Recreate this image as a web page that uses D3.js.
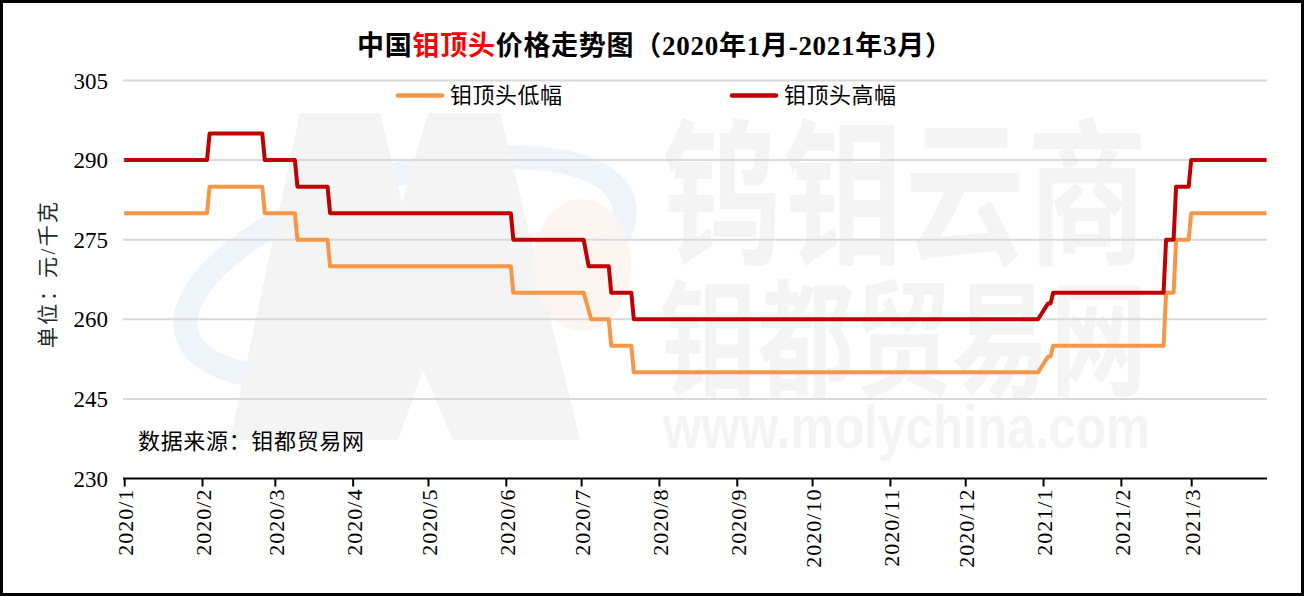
<!DOCTYPE html>
<html><head><meta charset="utf-8">
<script src="https://cdn.jsdelivr.net/npm/d3@7"></script>
<style>html,body{margin:0;padding:0;background:#fff;}svg{display:block;}</style>
</head><body>
<svg id="chart" width="1305" height="596"></svg>
<script>
// ---- data ----
const highDates  = ["2020-01-01","2020-02-03","2020-02-04","2020-02-25","2020-02-26","2020-03-09","2020-03-10","2020-03-22","2020-03-23","2020-06-03","2020-06-04","2020-07-02","2020-07-04","2020-07-12","2020-07-13","2020-07-21","2020-07-22","2020-12-30","2021-01-03","2021-01-04","2021-01-05","2021-02-18","2021-02-19","2021-02-22","2021-02-23","2021-02-28","2021-03-01","2021-03-31"];
const highValues = [290,290,295,295,290,290,285,285,280,280,275,275,270,270,265,265,260,260,263,263,265,265,275,275,285,285,290,290];
const lowDates   = ["2020-01-01","2020-02-03","2020-02-04","2020-02-25","2020-02-26","2020-03-09","2020-03-10","2020-03-22","2020-03-23","2020-06-03","2020-06-04","2020-07-02","2020-07-05","2020-07-12","2020-07-13","2020-07-21","2020-07-22","2020-12-30","2021-01-03","2021-01-04","2021-01-05","2021-02-18","2021-02-19","2021-02-22","2021-02-23","2021-02-28","2021-03-01","2021-03-31"];
const lowValues  = [280,280,285,285,280,280,275,275,270,270,265,265,260,260,255,255,250,250,253,253,255,255,265,265,275,275,280,280];
const yTicks = [230,245,260,275,290,305];
const xTickLabels = ["2020/1","2020/2","2020/3","2020/4","2020/5","2020/6","2020/7","2020/8","2020/9","2020/10","2020/11","2020/12","2021/1","2021/2","2021/3"];
const seriesNames = ["钼顶头低幅","钼顶头高幅"];
const seriesColors = ["#F79646","#C00000"];
const titleParts = [["中国","#000"],["钼顶头","#FF0000"],["价格走势图（2020年1月-2021年3月）","#000"]];
const yTitle = "单位：元/千克";
const sourceText = "数据来源：钼都贸易网";

const parse = d3.timeParse("%Y-%m-%d");
const svg = d3.select("#chart");
const serif = "'Liberation Serif','Times New Roman',serif";
const cjk = "'Liberation Serif','Noto Sans CJK SC',serif";

const x = d3.scaleTime().domain([parse("2020-01-01"), parse("2021-03-31")]).range([124.2, 1266.5]);
const y = d3.scaleLinear().domain([230, 305]).range([478.5, 80.5]);

// ---- watermark ----
const wm = svg.append("g");
wm.append("ellipse").attr("cx",405).attr("cy",268).attr("rx",228).attr("ry",92)
  .attr("transform","rotate(-17,405,268)").attr("fill","none").attr("stroke","#eff4fb").attr("stroke-width",24);
wm.append("polygon").attr("points","230,440 300,113 380,113 402,203 428,113 500,113 580,440 453,440 423,370 398,440")
  .attr("fill","#f4f4f4");
wm.append("ellipse").attr("cx",582).attr("cy",265).attr("rx",49).attr("ry",66).attr("fill","#fdf4ef").attr("opacity",0.9);
wm.append("text").attr("x",662).attr("y",0).attr("transform","translate(0,252) scale(1,1.32)")
  .attr("font-family","'Noto Sans CJK SC'").attr("font-weight","bold").attr("font-size",120)
  .attr("fill","#f4f4f4").attr("textLength",485).text("钨钼云商");
wm.append("text").attr("x",660).attr("y",0).attr("transform","translate(0,386) scale(1,1.3)")
  .attr("font-family","'Noto Sans CJK SC'").attr("font-weight","bold").attr("font-size",97)
  .attr("fill","#f4f4f4").attr("textLength",487).text("钼都贸易网");
wm.append("text").attr("x",663).attr("y",448).attr("font-family","'Liberation Sans',Arial,sans-serif")
  .attr("font-weight","bold").attr("font-size",62).attr("fill","#f4f4f4")
  .attr("textLength",487).attr("lengthAdjust","spacingAndGlyphs").text("www.molychina.com");

// ---- grid ----
svg.append("g").selectAll("line").data(yTicks.filter(v => v > 230)).join("line")
  .attr("x1",123).attr("x2",1267).attr("y1",d=>y(d)).attr("y2",d=>y(d))
  .attr("stroke","#d9d9d9").attr("stroke-width",2);

// ---- y labels ----
svg.append("g").selectAll("text").data(yTicks).join("text")
  .attr("x",108).attr("y",d=>y(d)).attr("dy","0.35em").attr("text-anchor","end")
  .attr("font-family",serif).attr("font-size",23).attr("fill","#000").text(d=>d);

// ---- x axis ----
const monthTicks = xTickLabels.map(s => { const [yy,mm] = s.split("/"); return new Date(+yy, +mm-1, 1); });
const xAxis = d3.axisBottom(x).tickValues(monthTicks).tickSize(8).tickFormat((d,i)=>xTickLabels[i]);
const gx = svg.append("g").attr("transform","translate(0,478.5)").call(xAxis);
gx.select(".domain").attr("d","M123,0H1267").attr("stroke","#000").attr("stroke-width",2);
gx.selectAll(".tick line").attr("stroke","#000").attr("stroke-width",2);
gx.selectAll(".tick text").attr("font-family",serif).attr("font-size",22).attr("fill","#000")
  .attr("transform","rotate(-90)").attr("text-anchor","end").attr("x",-10).attr("y",1).attr("dy","0.35em")
  .attr("letter-spacing",1);

// ---- lines ----
const line = d3.line().x(d=>x(d[0])).y(d=>y(d[1]));
const lowData = lowDates.map((d,i)=>[parse(d), lowValues[i]]);
const highData = highDates.map((d,i)=>[parse(d), highValues[i]]);
svg.append("path").datum(lowData).attr("d",line).attr("fill","none").attr("stroke",seriesColors[0])
  .attr("stroke-width",4).attr("stroke-linejoin","round");
svg.append("path").datum(highData).attr("d",line).attr("fill","none").attr("stroke",seriesColors[1])
  .attr("stroke-width",4).attr("stroke-linejoin","round");

// ---- legend ----
const legendX = [398, 732];
seriesNames.forEach((n,i)=>{
  svg.append("line").attr("x1",legendX[i]).attr("x2",legendX[i]+44).attr("y1",95.5).attr("y2",95.5)
    .attr("stroke",seriesColors[i]).attr("stroke-width",4.5).attr("stroke-linecap","round");
  svg.append("text").attr("x",legendX[i]+52).attr("y",95.5).attr("dy","0.36em")
    .attr("font-family",cjk).attr("font-size",22).attr("fill","#000")
    .attr("textLength",112).text(n);
});

// ---- title ----
const t = svg.append("text").attr("x",654.5).attr("y",55).attr("text-anchor","middle")
  .attr("font-family",cjk).attr("font-size",27).attr("font-weight","bold")
  .attr("textLength",595);
titleParts.forEach(p => t.append("tspan").attr("fill",p[1]).text(p[0]));

// ---- axis title & source ----
svg.append("text").attr("transform","translate(48,275) rotate(-90)").attr("text-anchor","middle")
  .attr("dy","0.35em").attr("font-family",cjk).attr("font-size",21).attr("fill","#1e2a2a")
  .attr("textLength",146).text(yTitle);
svg.append("text").attr("x",138).attr("y",449).attr("font-family",cjk).attr("font-size",22).attr("fill","#000")
  .attr("textLength",226).text(sourceText);

// ---- border ----
svg.append("rect").attr("x",1.5).attr("y",1.5).attr("width",1301).attr("height",593)
  .attr("fill","none").attr("stroke","#000").attr("stroke-width",3);
</script>
</body></html>
